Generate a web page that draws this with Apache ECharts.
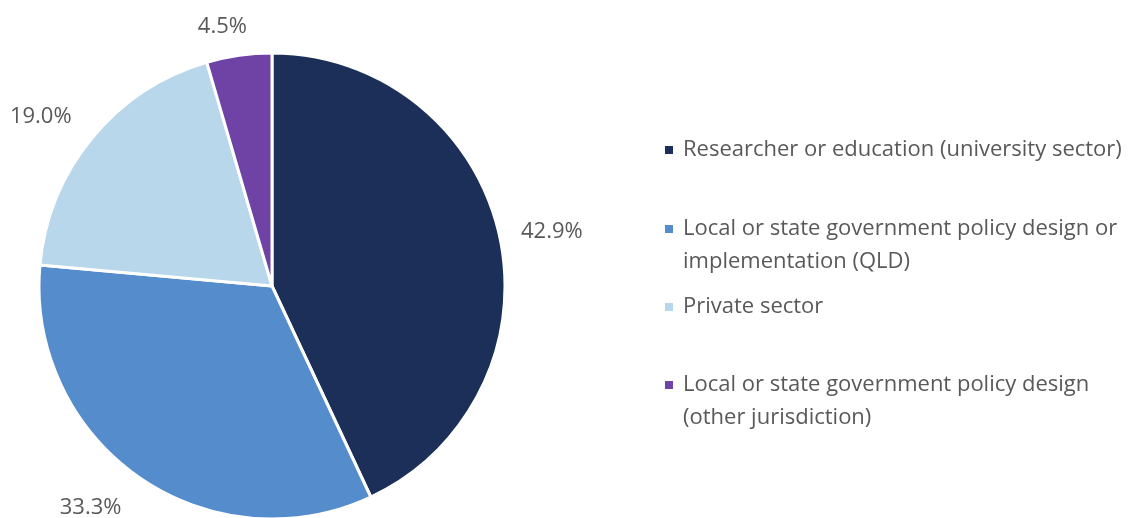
<!DOCTYPE html>
<html>
<head>
<meta charset="utf-8">
<script src="https://cdn.jsdelivr.net/npm/echarts@6/dist/echarts.min.js"></script>
<style>
    html, body { margin: 0; padding: 0; background: #fff; }
    #grafico { width: 1144px; height: 518px; }
</style>
</head>
<body>
<div id="grafico"></div>
<script>
// Dados do gráfico
const categorias = [
    'Researcher or education (university sector)',
    'Local or state government policy design or implementation (QLD)',
    'Private sector',
    'Local or state government policy design (other jurisdiction)'
];
const percentuais = [42.9, 33.3, 19.0, 4.5];
// quebras de linha da legenda (linha vazia no início para alinhar o ícone com a 1a linha)
const legendaTexto = [
    'Researcher or education (university sector)',
    ' \nLocal or state government policy design or\nimplementation (QLD)',
    'Private sector',
    ' \nLocal or state government policy design\n(other jurisdiction)'
];

const cores = ['#1B2F58', '#558CCB', '#B8D7EB', '#6F42A6'];
const fonte = '"Open Sans", "Noto Sans", sans-serif';
const corTexto = '#595959';

// distância dos rótulos e ajustes finos
const rotuloLinha = [17, 38, 33, 29];
const rotuloAjuste = [0, 10, 10, 17];
const legendaTopo = [133.5, 179.5, 290.5, 335.5];

function renderGrafico() {
    const chartDom = document.getElementById('grafico');
    const myChart = echarts.init(chartDom);

    const option = {
        animation: false,
        legend: categorias.map((nome, i) => ({
            data: [nome],
            orient: 'vertical',
            left: 663,
            top: legendaTopo[i],
            padding: 0,
            icon: 'rect',
            itemWidth: 10,
            itemHeight: 10,
            selectedMode: false,
            formatter: () => legendaTexto[i],
            textStyle: {
                fontFamily: fonte,
                fontSize: 22,
                color: corTexto,
                lineHeight: 33,
                padding: [0, 0, 0, 4]
            }
        })),
        series: [
            {
                type: 'pie',
                center: [272, 286],
                radius: 233,
                startAngle: 90,
                clockwise: true,
                avoidLabelOverlap: false,
                itemStyle: { borderColor: '#fff', borderWidth: 3 },
                label: {
                    show: true,
                    position: 'outside',
                    fontFamily: fonte,
                    fontSize: 22,
                    color: corTexto,
                    formatter: p => p.value.toFixed(1) + '%'
                },
                labelLayout: p => ({ dx: rotuloAjuste[p.dataIndex] }),
                emphasis: { disabled: true },
                data: categorias.map((nome, i) => ({
                    name: nome,
                    value: percentuais[i],
                    itemStyle: { color: cores[i] },
                    labelLine: { show: false, length: rotuloLinha[i], length2: 0 }
                }))
            }
        ]
    };

    myChart.setOption(option);
}

renderGrafico();
</script>
</body>
</html>
